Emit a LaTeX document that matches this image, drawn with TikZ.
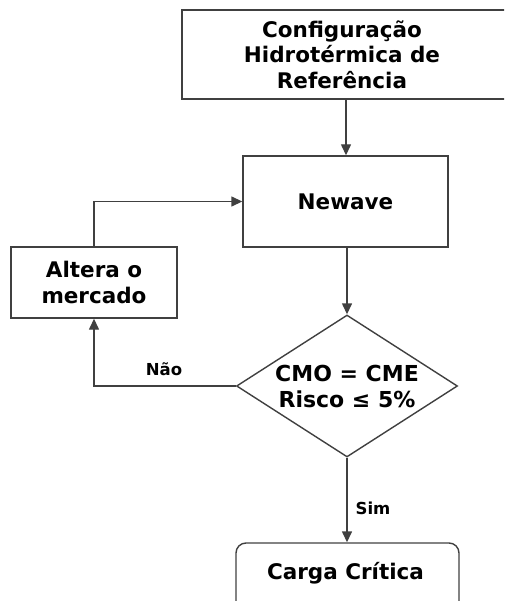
\documentclass[tikz,border=0pt]{standalone}
\usepackage{fontspec}
\setmainfont{DejaVu Sans}
\usetikzlibrary{shapes.geometric,arrows.meta}
\begin{document}
\begin{tikzpicture}[x=1pt,y=-1pt,
  line/.style={draw=black!75,line width=1.4pt},
  arr/.style={line,-{Triangle[length=11pt,width=10pt]}},
  boxst/.style={line,rectangle,inner sep=0pt,align=center,font=\bfseries\fontsize{21.5}{25.5}\selectfont},
  lbl/.style={font=\bfseries\fontsize{16.5}{18}\selectfont,inner sep=0pt}]
\useasboundingbox (0,0) rectangle (504,601);
\begin{scope}
\clip (0,0) rectangle (504,601);
\node[boxst,minimum width=330pt,minimum height=89pt] (ref) at (347,54.5) {\hspace*{-10pt}Configuração\\\hspace*{-10pt}Hidrotérmica de\\\hspace*{-10pt}Referência};
\node[boxst,minimum width=205pt,minimum height=91pt] (nw) at (345.5,201.5) {Newave};
\node[boxst,minimum width=166pt,minimum height=71pt] (alt) at (94,282.5) {Altera o\\mercado};
\node[line,diamond,inner sep=0pt,minimum width=221pt,minimum height=142pt] (dec) at (347,386) {};
\node[align=center,font=\bfseries\fontsize{22}{26}\selectfont,inner sep=0pt] (dect) at (347,386) {CMO = CME\\Risco ≤ 5\%};
\node[boxst,rounded corners=10pt,minimum width=223pt,minimum height=80pt] (cc) at (347.5,583) {};
\node[font=\bfseries\fontsize{21.5}{25}\selectfont,inner sep=0pt] (cct) at (345.5,573) {Carga Crítica};
\end{scope}
\coordinate (c1) at (346,99);
\draw[arr] (c1) -- (nw.north -| c1);
\draw[arr] (nw.south -| dec.north) -- (dec.north);
\draw[arr] (dec.west) -| (alt.south);
\draw[arr] (alt.north) |- (nw.west);
\draw[arr] (dec.south) -- (cc.north -| dec.south);
\node[lbl] (nao) at (164,369) {Não};
\node[lbl] (sim) at (373,508) {Sim};
\end{tikzpicture}
\end{document}
